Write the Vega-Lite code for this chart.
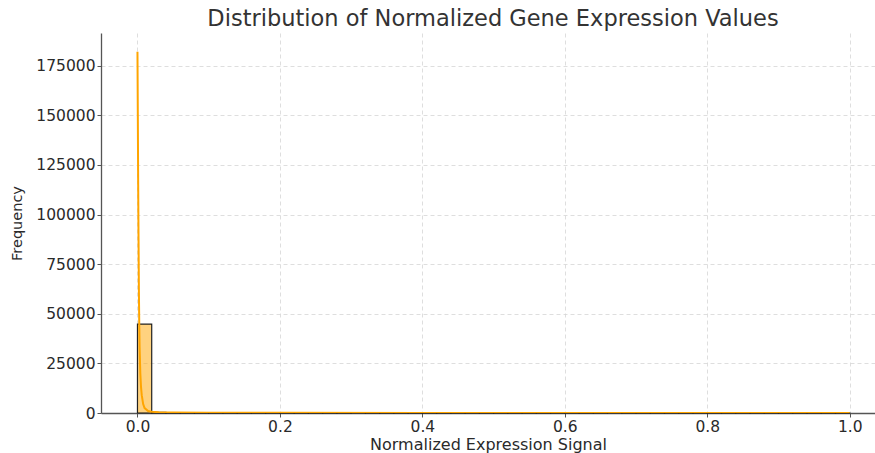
{
  "$schema": "https://vega.github.io/schema/vega-lite/v6.json",
  "autosize": {"type": "none"},
  "width": 774,
  "height": 380,
  "padding": {"left": 101, "top": 33, "right": 0, "bottom": 40},
  "background": "white",
  "title": {
    "text": "Distribution of Normalized Gene Expression Values",
    "font": "DejaVu Sans",
    "fontSize": 22.5,
    "fontWeight": "normal",
    "color": "#333333",
    "anchor": "middle",
    "offset": 3,
    "dx": 5
  },
  "datasets": {
    "hist": [
      {"bin_start": 0.00, "bin_end": 0.02, "count": 44800},
      {"bin_start": 0.02, "bin_end": 0.04, "count": 320},
      {"bin_start": 0.04, "bin_end": 0.06, "count": 150},
      {"bin_start": 0.06, "bin_end": 0.08, "count": 90},
      {"bin_start": 0.08, "bin_end": 0.10, "count": 60},
      {"bin_start": 0.10, "bin_end": 0.12, "count": 45},
      {"bin_start": 0.12, "bin_end": 0.14, "count": 35},
      {"bin_start": 0.14, "bin_end": 0.16, "count": 28},
      {"bin_start": 0.16, "bin_end": 0.18, "count": 22},
      {"bin_start": 0.18, "bin_end": 0.20, "count": 18},
      {"bin_start": 0.20, "bin_end": 0.22, "count": 15},
      {"bin_start": 0.22, "bin_end": 0.24, "count": 13},
      {"bin_start": 0.24, "bin_end": 0.26, "count": 11},
      {"bin_start": 0.26, "bin_end": 0.28, "count": 10},
      {"bin_start": 0.28, "bin_end": 0.30, "count": 9},
      {"bin_start": 0.30, "bin_end": 0.32, "count": 8},
      {"bin_start": 0.32, "bin_end": 0.34, "count": 7},
      {"bin_start": 0.34, "bin_end": 0.36, "count": 7},
      {"bin_start": 0.36, "bin_end": 0.38, "count": 6},
      {"bin_start": 0.38, "bin_end": 0.40, "count": 6},
      {"bin_start": 0.40, "bin_end": 0.42, "count": 5},
      {"bin_start": 0.42, "bin_end": 0.44, "count": 5},
      {"bin_start": 0.44, "bin_end": 0.46, "count": 5},
      {"bin_start": 0.46, "bin_end": 0.48, "count": 4},
      {"bin_start": 0.48, "bin_end": 0.50, "count": 4},
      {"bin_start": 0.50, "bin_end": 0.52, "count": 4},
      {"bin_start": 0.52, "bin_end": 0.54, "count": 4},
      {"bin_start": 0.54, "bin_end": 0.56, "count": 3},
      {"bin_start": 0.56, "bin_end": 0.58, "count": 3},
      {"bin_start": 0.58, "bin_end": 0.60, "count": 3},
      {"bin_start": 0.60, "bin_end": 0.62, "count": 3},
      {"bin_start": 0.62, "bin_end": 0.64, "count": 3},
      {"bin_start": 0.64, "bin_end": 0.66, "count": 3},
      {"bin_start": 0.66, "bin_end": 0.68, "count": 2},
      {"bin_start": 0.68, "bin_end": 0.70, "count": 2},
      {"bin_start": 0.70, "bin_end": 0.72, "count": 2},
      {"bin_start": 0.72, "bin_end": 0.74, "count": 2},
      {"bin_start": 0.74, "bin_end": 0.76, "count": 2},
      {"bin_start": 0.76, "bin_end": 0.78, "count": 2},
      {"bin_start": 0.78, "bin_end": 0.80, "count": 2},
      {"bin_start": 0.80, "bin_end": 0.82, "count": 2},
      {"bin_start": 0.82, "bin_end": 0.84, "count": 2},
      {"bin_start": 0.84, "bin_end": 0.86, "count": 1},
      {"bin_start": 0.86, "bin_end": 0.88, "count": 1},
      {"bin_start": 0.88, "bin_end": 0.90, "count": 1},
      {"bin_start": 0.90, "bin_end": 0.92, "count": 1},
      {"bin_start": 0.92, "bin_end": 0.94, "count": 1},
      {"bin_start": 0.94, "bin_end": 0.96, "count": 1},
      {"bin_start": 0.96, "bin_end": 0.98, "count": 1},
      {"bin_start": 0.98, "bin_end": 1.00, "count": 2}
    ],
    "kde": [
      {"x": 0.0, "y": 182000},
      {"x": 0.0005, "y": 150000},
      {"x": 0.001, "y": 115000},
      {"x": 0.0015, "y": 88000},
      {"x": 0.002, "y": 62000},
      {"x": 0.0025, "y": 45000},
      {"x": 0.003, "y": 33000},
      {"x": 0.004, "y": 20000},
      {"x": 0.005, "y": 13000},
      {"x": 0.006, "y": 9000},
      {"x": 0.008, "y": 4500},
      {"x": 0.01, "y": 2500},
      {"x": 0.015, "y": 1000},
      {"x": 0.02, "y": 600},
      {"x": 0.03, "y": 400},
      {"x": 0.05, "y": 250},
      {"x": 0.1, "y": 150},
      {"x": 0.2, "y": 100},
      {"x": 0.4, "y": 60},
      {"x": 0.6, "y": 40},
      {"x": 0.8, "y": 30},
      {"x": 1.0, "y": 20}
    ]
  },
  "layer": [
    {
      "data": {"name": "hist"},
      "mark": {"type": "rect", "fill": "#FFA500", "fillOpacity": 0.5, "stroke": "#222222", "strokeWidth": 1.2},
      "encoding": {
        "x": {
          "field": "bin_start", "type": "quantitative",
          "scale": {"domain": [-0.0512, 1.0355], "nice": false, "zero": false},
          "axis": {
            "title": "Normalized Expression Signal",
            "values": [0, 0.2, 0.4, 0.6, 0.8, 1.0],
            "format": ".1f",
            "grid": true
          }
        },
        "x2": {"field": "bin_end"},
        "y": {
          "field": "count", "type": "quantitative",
          "scale": {"domain": [0, 191500], "nice": false},
          "axis": {
            "title": "Frequency",
            "values": [0, 25000, 50000, 75000, 100000, 125000, 150000, 175000],
            "format": "d",
            "grid": true
          }
        },
        "y2": {"datum": 0}
      }
    },
    {
      "data": {"name": "kde"},
      "mark": {"type": "line", "color": "#FFA500", "strokeWidth": 2, "clip": true},
      "encoding": {
        "x": {"field": "x", "type": "quantitative"},
        "y": {"field": "y", "type": "quantitative"}
      }
    }
  ],
  "config": {
    "view": {"stroke": null},
    "axis": {
      "labelFont": "DejaVu Sans",
      "titleFont": "DejaVu Sans",
      "labelFontSize": 15.5,
      "titleFontSize": 14,
      "titleFontWeight": "normal",
      "labelColor": "#2a2a2a",
      "titleColor": "#2a2a2a",
      "domainColor": "#555555",
      "domainWidth": 1.3,
      "tickColor": "#555555",
      "tickSize": 4,
      "gridColor": "#d5d5d5",
      "gridDash": [4, 3],
      "gridWidth": 0.8
    },
    "axisX": {"labelPadding": 2, "titlePadding": 2, "titleFontSize": 16},
    "axisY": {"labelPadding": 2, "titlePadding": 11, "titleFontSize": 14.5}
  }
}
